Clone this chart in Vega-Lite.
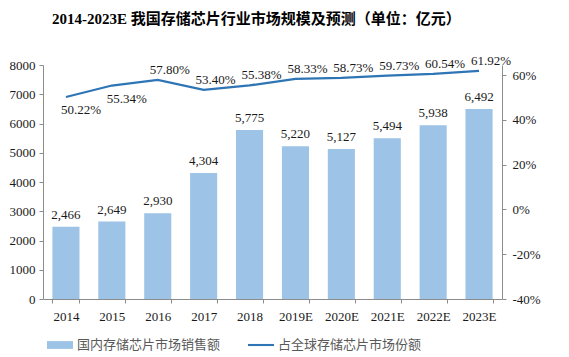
{
  "$schema": "https://vega.github.io/schema/vega-lite/v6.json",
  "width": 459,
  "height": 234,
  "autosize": {"type": "none"},
  "padding": {"left": 43, "top": 65, "right": 67, "bottom": 58},
  "background": "white",
  "title": {
    "text": "2014-2023E 我国存储芯片行业市场规模及预测（单位：亿元）",
    "anchor": "start",
    "frame": "group",
    "dx": 9,
    "offset": 28,
    "fontSize": 15,
    "font": "Liberation Serif, Noto Sans CJK SC",
    "fontWeight": "bold",
    "color": "#000000"
  },
  "config": {
    "view": {"stroke": null},
    "axis": {
      "labelFont": "Liberation Serif",
      "labelFontSize": 13,
      "labelColor": "#1a1a1a",
      "domainColor": "#8c8c8c",
      "tickColor": "#8c8c8c",
      "grid": false,
      "title": null,
      "tickSize": 4,
      "labelOverlap": false
    }
  },
  "data": {
    "values": [
      {"year": "2014", "sales": 2466, "share": 0.5022},
      {"year": "2015", "sales": 2649, "share": 0.5534},
      {"year": "2016", "sales": 2930, "share": 0.5780},
      {"year": "2017", "sales": 4304, "share": 0.5340},
      {"year": "2018", "sales": 5775, "share": 0.5538},
      {"year": "2019E", "sales": 5220, "share": 0.5833},
      {"year": "2020E", "sales": 5127, "share": 0.5873},
      {"year": "2021E", "sales": 5494, "share": 0.5973},
      {"year": "2022E", "sales": 5938, "share": 0.6054},
      {"year": "2023E", "sales": 6492, "share": 0.6192}
    ]
  },
  "encoding": {
    "x": {
      "field": "year",
      "type": "nominal",
      "sort": null,
      "scale": {"paddingInner": 0.41, "paddingOuter": 0.205},
      "axis": {"labelAngle": 0, "tickBand": "extent", "labelPadding": 7}
    }
  },
  "layer": [
    {
      "encoding": {
        "y": {
          "field": "sales",
          "type": "quantitative",
          "scale": {"domain": [0, 8000], "nice": false},
          "axis": {"orient": "left", "values": [0,1000,2000,3000,4000,5000,6000,7000,8000], "tickCount": 9, "format": "d", "labelPadding": 4, "labelOverlap": false}
        }
      },
      "layer": [
        {
          "mark": {"type": "bar", "color": "#9DC3E6"},
          "encoding": {
            "color": {
              "datum": "国内存储芯片市场销售额",
              "scale": {
                "domain": ["国内存储芯片市场销售额", "占全球存储芯片市场份额"],
                "range": ["#9DC3E6", "#2E75B6"]
              },
              "legend": {
                "orient": "none",
                "legendX": 4,
                "legendY": 267,
                "direction": "horizontal",
                "title": null,
                "symbolSize": 676,
                "labelFont": "Noto Sans CJK SC",
                "labelFontSize": 13,
                "labelColor": "#595959",
                "columnPadding": 27,
                "labelOffset": 4,
                "encode": {
                  "symbols": {
                    "update": {
                      "shape": {"signal": "datum.value === '国内存储芯片市场销售额' ? 'M-1,-0.3H1V0.3H-1Z' : 'M-1,-0.08H1V0.08H-1Z'"},
                      "fill": {"scale": "color", "field": "value"},
                      "strokeWidth": {"value": 0}
                    }
                  }
                }
              }
            }
          }
        },
        {
          "mark": {"type": "text", "baseline": "bottom", "dy": -5, "font": "Liberation Serif", "fontSize": 13, "color": "#1a1a1a"},
          "encoding": {
            "text": {"field": "sales", "type": "quantitative", "format": ","}
          }
        }
      ]
    },
    {
      "encoding": {
        "y": {
          "field": "share",
          "type": "quantitative",
          "scale": {"domain": [-0.4, 0.645], "nice": false, "zero": false},
          "axis": {"orient": "right", "values": [-0.4,-0.2,0,0.2,0.4,0.6], "format": ".0%", "labelExpr": "replace(datum.label, '−', '-')", "labelPadding": 6}
        }
      },
      "layer": [
        {
          "mark": {"type": "line", "strokeWidth": 2.25},
          "encoding": {
            "color": {"datum": "占全球存储芯片市场份额"}
          }
        },
        {
          "transform": [{"filter": "datum.year !== '2014' && datum.year !== '2015'"}],
          "mark": {"type": "text", "baseline": "bottom", "dx": 12, "dy": -3, "font": "Liberation Serif", "fontSize": 13, "color": "#1a1a1a"},
          "encoding": {
            "text": {"field": "share", "type": "quantitative", "format": ".2%"}
          }
        },
        {
          "transform": [{"filter": "datum.year === '2014' || datum.year === '2015'"}],
          "mark": {"type": "text", "baseline": "top", "dx": 15, "dy": 7, "font": "Liberation Serif", "fontSize": 13, "color": "#1a1a1a"},
          "encoding": {
            "text": {"field": "share", "type": "quantitative", "format": ".2%"}
          }
        }
      ]
    }
  ],
  "resolve": {"scale": {"y": "independent"}}
}
